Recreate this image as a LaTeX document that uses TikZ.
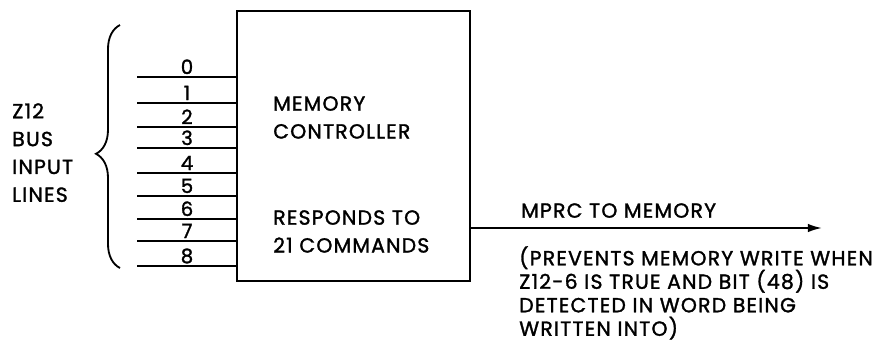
\documentclass[tikz,border=0pt]{standalone}
\usepackage{fontspec}
\setmainfont{Poppins}[LetterSpace=6, FakeBold=1.5]
\usetikzlibrary{decorations.pathreplacing,arrows.meta,positioning}

\tikzset{
  wire/.style={line width=1.3pt},
  txt/.style={
    font=\fontsize{14.5}{19.8}\selectfont,
    inner sep=0pt,
    align=left,
    anchor=north west
  },
  bit/.style={
    font=\fontsize{14}{14}\selectfont,
    inner sep=0pt,
    anchor=base
  },
}

\begin{document}
\begin{tikzpicture}[x=0.025cm, y=-0.025cm]
\useasboundingbox (0,0) rectangle (884,345);

\node[draw, line width=1.4pt, minimum width=5.825cm, minimum height=6.75cm, inner sep=0pt] (ctrl) at (353.5,146) {};

% bus lines
\foreach \n/\y in {0/77,1/103,2/127,3/148,4/173,5/196,6/219,7/241,8/266}{
  \coordinate (in\n) at (137,\y);
  \draw[wire] (in\n) -- (in\n -| ctrl.west);
  \node[bit] (b\n) at (187,\y-3) {\n};
}

\draw[wire, decorate, decoration={brace, amplitude=0.6cm, aspect=0.47}] (120,268) -- (120,25);

\node[txt] (bus) at (12,103) {Z12\\BUS\\INPUT\\LINES};
\node[txt] (name) at (273,96) {MEMORY\\CONTROLLER};
\node[txt] (cmds) at (273,210) {RESPONDS TO\\21 COMMANDS};

% output
\coordinate (mem) at (822,228);
\draw[wire, -{Latex[length=10pt, width=6pt]}] (ctrl.east |- mem) -- (mem);
\node[txt] (mprc) at (521,203) {MPRC TO MEMORY};
\node[txt, font=\fontsize{14.5}{16.7}\selectfont] (note) at (519,246)
  {(PREVENTS MEMORY WRITE WHEN\\Z12-6 IS TRUE AND BIT (48) IS\\DETECTED IN WORD BEING\\WRITTEN INTO)};
\end{tikzpicture}
\end{document}
